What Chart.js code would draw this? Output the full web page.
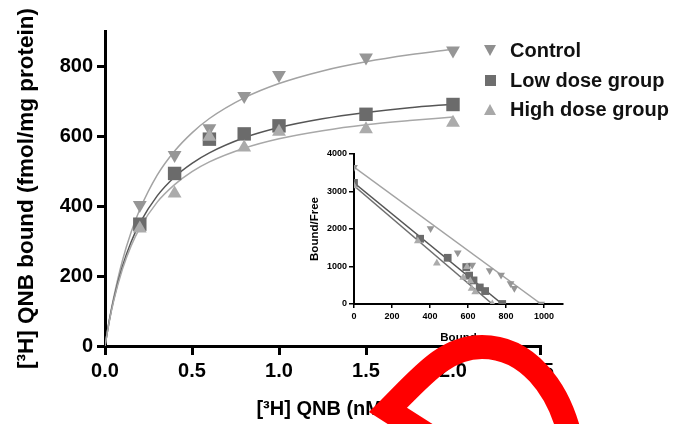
<!DOCTYPE html>
<html>
<head>
<meta charset="utf-8">
<script src="https://cdn.jsdelivr.net/npm/chart.js@4.4.1/dist/chart.umd.min.js"></script>
<style>
  html, body { margin: 0; padding: 0; background: #fff; }
  #wrap { position: relative; width: 692px; height: 424px; overflow: hidden; font-family: 'Liberation Sans', Arial, sans-serif; }
  #wrap canvas { position: absolute; }
  #main { left: 0; top: 0; }
  #inset { left: 300px; top: 145px; }
  #pen { left: 0; top: 0; z-index: 5; pointer-events: none; }
  .legend { position: absolute; left: 482px; top: 36px; font-weight: bold; font-size: 20px; color: #111; }
  .legend .row { position: relative; height: 29.5px; line-height: 29.5px; padding-left: 28px; white-space: nowrap; }
  .legend .mk { position: absolute; left: 2px; top: 9px; width: 0; height: 0; }
  .mk.down { border-left: 6.5px solid transparent; border-right: 6.5px solid transparent; border-top: 11px solid #8f8f8f; }
  .mk.sq { left: 3px !important; top: 9px !important; width: 11px; height: 11px; background: #6e6e6e; }
  .mk.up { border-left: 6.5px solid transparent; border-right: 6.5px solid transparent; border-bottom: 11px solid #a8a8a8; }
</style>
</head>
<body>
<div id="wrap">
  <canvas id="main" width="692" height="424"></canvas>
  <canvas id="inset" width="270" height="205"></canvas>
  <canvas id="pen" width="692" height="424"></canvas>
  <div class="legend">
    <div class="row"><span class="mk down"></span>Control</div>
    <div class="row"><span class="mk sq"></span>Low dose group</div>
    <div class="row"><span class="mk up"></span>High dose group</div>
  </div>
</div>
<script>
// ---- saturation binding data (nM vs fmol/mg protein)
const doses = [0.2, 0.4, 0.6, 0.8, 1.0, 1.5, 2.0];
const controlBound = [403, 546, 622, 714, 774, 824, 844];
const lowBound = [348, 493, 591, 606, 629, 662, 690];
const highBound = [336, 436, 598, 567, 612, 619, 638];

// fitted curves
const curveX = [0, 0.025, 0.05, 0.1, 0.15, 0.2, 0.3, 0.4, 0.5, 0.6, 0.8, 1.0, 1.25, 1.5, 1.75, 2.0];
const controlCurve = [0, 75, 139, 244, 325, 390, 488, 557, 609, 650, 709, 750, 786, 812, 832, 848];
const lowCurve = [0, 73, 133, 227, 297, 351, 429, 483, 522, 552, 595, 624, 649, 667, 681, 691];
const highCurve = [0, 71, 129, 219, 286, 337, 411, 461, 498, 526, 565, 592, 615, 632, 644, 654];

const xTicks = [0, 0.5, 1.0, 1.5, 2.0, 2.5];
const yTicks = [0, 200, 400, 600, 800];

// ---- Scatchard inset (Bound vs Bound/Free)
const controlSB = [[0, 3650], [403, 2015], [546, 1365], [622, 1037], [714, 892], [774, 774], [824, 549], [844, 422], [985, 0]];
const lowSB = [[0, 3230], [348, 1740], [493, 1232], [591, 985], [606, 757], [629, 629], [662, 441], [690, 345], [780, 0]];
const highSB = [[0, 3150], [336, 1680], [436, 1090], [595, 992], [575, 710], [612, 612], [619, 413], [638, 319], [728, 0]];
const controlLine = [[0, 3650], [985, 0]];
const lowLine = [[0, 3230], [780, 0]];
const highLine = [[0, 3150], [728, 0]];
const insetXTicks = [0, 200, 400, 600, 800, 1000];
const insetYTicks = [0, 1000, 2000, 3000, 4000];

const C_CTRL = '#969696', C_LOW = '#6b6b6b', C_HIGH = '#ababab';
const L_CTRL = '#a3a3a3', L_LOW = '#555555', L_HIGH = '#a8a8a8';

Chart.defaults.font.family = "'Liberation Sans', Arial, sans-serif";
Chart.defaults.font.weight = 'bold';
Chart.defaults.color = '#000';
Chart.defaults.plugins.legend.display = false;
Chart.defaults.plugins.tooltip.enabled = false;
Chart.defaults.animation = false;

const pts = (xs, ys) => xs.map((x, i) => ({ x: x, y: ys[i] }));
const pairs = arr => arr.map(p => ({ x: p[0], y: p[1] }));
const fixTicks = list => s => { s.ticks = list.map(v => ({ value: v })); };

function marker(data, style, rot, color, r) {
  return { data: data, showLine: false, pointStyle: style, rotation: rot,
    pointRadius: r, backgroundColor: color, borderColor: color, borderWidth: 0 };
}
function curve(data, color, w) {
  return { data: data, showLine: true, pointRadius: 0, borderColor: color,
    borderWidth: w, cubicInterpolationMode: 'monotone', fill: false };
}

new Chart(document.getElementById('main'), {
  type: 'scatter',
  data: {
    datasets: [
      marker(pts(doses, highBound), 'triangle', 0, C_HIGH, 8),
      marker(pts(doses, lowBound), 'rect', 0, C_LOW, 9.5),
      marker(pts(doses, controlBound), 'triangle', 180, C_CTRL, 8),
      curve(pts(curveX, highCurve), L_HIGH, 1.5),
      curve(pts(curveX, lowCurve), L_LOW, 1.5),
      curve(pts(curveX, controlCurve), L_CTRL, 1.5)
    ]
  },
  options: {
    responsive: false,
    layout: { padding: { left: 0, right: 152, top: 31, bottom: 0 } },
    scales: {
      x: {
        type: 'linear', min: 0, max: 2.5,
        afterBuildTicks: fixTicks(xTicks),
        afterFit: s => { s.height = 78; },
        ticks: { font: { size: 20 }, padding: 4, callback: v => v.toFixed(1) },
        grid: { drawOnChartArea: false, color: '#000', lineWidth: 3, tickLength: 9 },
        border: { color: '#000', width: 3 },
        title: { display: true, text: '[³H] QNB (nM)', font: { size: 20 }, padding: { bottom: 3 } }
      },
      y: {
        min: 0, max: 900,
        afterBuildTicks: fixTicks(yTicks),
        afterFit: s => { s.width = 105; },
        ticks: { font: { size: 20 }, padding: 4 },
        grid: { drawOnChartArea: false, color: '#000', lineWidth: 3, tickLength: 8 },
        border: { color: '#000', width: 3 },
        title: { display: true, text: '[³H] QNB bound (fmol/mg protein)', font: { size: 22.5 }, padding: { top: 13 } }
      }
    }
  }
});

// ---- inset
new Chart(document.getElementById('inset'), {
  type: 'scatter',
  data: {
    datasets: [
      marker(pairs(highSB), 'triangle', 0, C_HIGH, 4.5),
      marker(pairs(lowSB), 'rect', 0, C_LOW, 5.5),
      marker(pairs(controlSB), 'triangle', 180, C_CTRL, 4.5),
      curve(pairs(highLine), '#6f6f6f', 1.5),
      curve(pairs(lowLine), L_LOW, 1.5),
      curve(pairs(controlLine), L_CTRL, 1.5)
    ]
  },
  options: {
    responsive: false,
    layout: { padding: { left: 0, right: 7, top: 9, bottom: 0 } },
    scales: {
      x: {
        type: 'linear', min: 0, max: 1100,
        afterBuildTicks: fixTicks(insetXTicks),
        afterFit: s => { s.height = 46; },
        ticks: { font: { size: 9 }, padding: 3, callback: v => String(v) },
        grid: { drawOnChartArea: false, color: '#000', lineWidth: 1.5, tickLength: 4 },
        border: { color: '#000', width: 2 },
        title: { display: true, text: 'Bound', font: { size: 11.5 }, padding: { bottom: 5 } }
      },
      y: {
        min: 0, max: 4000,
        afterBuildTicks: fixTicks(insetYTicks),
        afterFit: s => { s.width = 54; },
        ticks: { font: { size: 9 }, padding: 2, callback: v => String(v) },
        grid: { drawOnChartArea: false, color: '#000', lineWidth: 1.5, tickLength: 5 },
        border: { color: '#000', width: 2 },
        title: { display: true, text: 'Bound/Free', font: { size: 11.5 }, padding: { top: 8 } }
      }
    }
  }
});

// ---- red pen stroke lying over the figure
const pen = document.getElementById('pen').getContext('2d');
pen.strokeStyle = '#ff0000';
pen.lineWidth = 24;
pen.lineJoin = 'miter';
pen.beginPath();
pen.moveTo(448, 448);
pen.lineTo(388, 410);
pen.bezierCurveTo(422, 376, 445, 347, 482, 347);
pen.bezierCurveTo(525, 347, 560, 385, 572, 445);
pen.stroke();
</script>
</body>
</html>
